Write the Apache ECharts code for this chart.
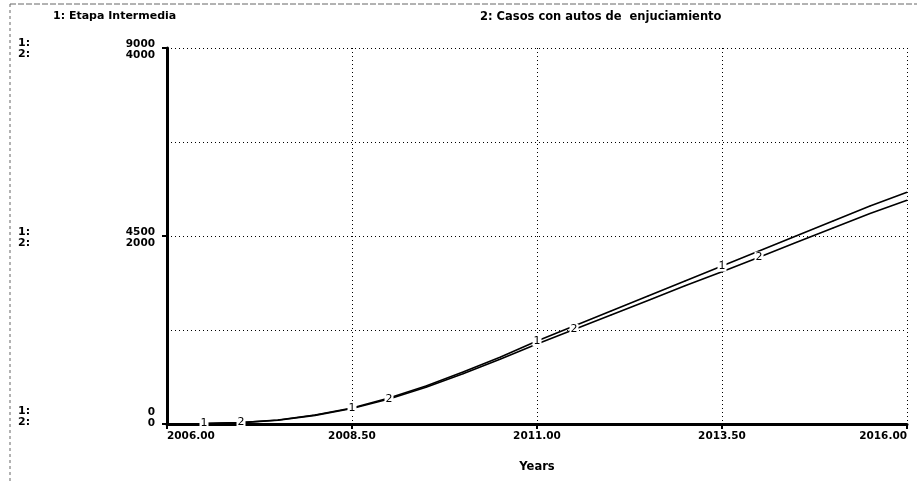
<!DOCTYPE html>
<html><head><meta charset="utf-8">
<script src="https://cdn.jsdelivr.net/npm/echarts@6/dist/echarts.min.js"></script>
<style>html,body{margin:0;padding:0;background:#fff}#c{width:917px;height:482px}</style>
</head><body><div id="c"></div>
<script>
// ---- data ----
const years = [2006,2006.5,2007,2007.5,2008,2008.5,2009,2009.5,2010,2010.5,2011,2011.5,2012,2012.5,2013,2013.5,2014,2014.5,2015,2015.5,2016];
const etapaIntermedia = [0,10,35,95,215,385,620,910,1245,1600,1985,2345,2705,3065,3425,3780,4140,4500,4860,5220,5550];
const casosAutos = [0,5,15,40,92,165,265,390,535,690,850,1005,1160,1315,1470,1620,1775,1930,2085,2240,2380];
const seriesNames = ['1: Etapa Intermedia','2: Casos con autos de  enjuciamiento'];
const xTicks = [2006, 2008.5, 2011, 2013.5, 2016];
const y1Ticks = [0, 4500, 9000];
const y2Ticks = [0, 2000, 4000];
const label1At = [2006.5, 2008.5, 2011, 2013.5];
const label2At = [2007, 2009, 2011.5, 2014];

const FONT = 'DejaVu Sans';
const chart = echarts.init(document.getElementById('c'));

function mkData(vals, marks, txt){
  return years.map((x,i)=>({
    value:[x, vals[i]],
    label:{show: marks.includes(x), formatter: txt}
  }));
}
const lineLabel = {position:'inside', color:'#000', backgroundColor:'#fff', fontSize:11, fontFamily:FONT, padding:[0,1]};
const tickFont = {color:'#000', fontFamily:FONT, fontWeight:'bold', fontSize:10.5};
const rt = (pad)=>({color:'#000', fontFamily:FONT, fontWeight:'bold', fontSize:10.5, padding:pad});

chart.setOption({
  animation:false,
  backgroundColor:'#fff',
  grid:{left:167, right:10, top:48, bottom:58, containLabel:false},
  graphic:[
    {type:'text', left:53, top:11, style:{text:seriesNames[0], font:'bold 11px '+FONT, fill:'#000'}},
    {type:'text', left:480, top:11, style:{text:seriesNames[1], font:'bold 11.5px '+FONT, fill:'#000'}},
    {type:'text', left:18, top:38, style:{text:'1:', font:'bold 11px '+FONT, fill:'#000'}},
    {type:'text', left:18, top:49, style:{text:'2:', font:'bold 11px '+FONT, fill:'#000'}},
    {type:'text', left:18, top:227, style:{text:'1:', font:'bold 11px '+FONT, fill:'#000'}},
    {type:'text', left:18, top:238, style:{text:'2:', font:'bold 11px '+FONT, fill:'#000'}},
    {type:'text', left:18, top:406, style:{text:'1:', font:'bold 11px '+FONT, fill:'#000'}},
    {type:'text', left:18, top:417, style:{text:'2:', font:'bold 11px '+FONT, fill:'#000'}},
    {type:'line', shape:{x1:10,y1:4,x2:10,y2:482}, style:{stroke:'#666', lineWidth:1, lineDash:[3,3]}},
    {type:'line', shape:{x1:10,y1:4,x2:917,y2:4}, style:{stroke:'#666', lineWidth:1, lineDash:[6,2]}}
  ],
  xAxis:{
    type:'value', min:2006, max:2016, interval:2.5,
    name:'Years', nameLocation:'middle', nameGap:37,
    nameTextStyle:{fontFamily:FONT, fontWeight:'bold', fontSize:11.5, color:'#000'},
    axisLine:{show:true, lineStyle:{color:'#000', width:3}},
    axisTick:{show:true, length:5, lineStyle:{color:'#000', width:2}},
    axisLabel:Object.assign({margin:7, formatter:v=>v.toFixed(2), alignMinLabel:'left', alignMaxLabel:'right'}, tickFont),
    splitLine:{show:true, lineStyle:{color:'#000', width:1, type:[1,3]}}
  },
  yAxis:[
    {type:'value', min:0, max:9000, interval:4500, position:'left',
     axisLine:{show:true, onZero:false, lineStyle:{color:'#000', width:3}},
     axisTick:{show:true, length:5, lineStyle:{color:'#000', width:2}},
     axisLabel:Object.assign({margin:12, verticalAlign:'middle',
       formatter:v=> v===0 ? '{z|0}' : '{n|'+v+'}',
       rich:{n:rt([0,0,8,0]), z:rt([0,0,24,0])}}, tickFont),
     splitLine:{show:true, lineStyle:{color:'#000', width:1, type:[1,3]}}
    },
    {type:'value', min:0, max:4000, interval:2000, position:'left', offset:0,
     axisLine:{show:false}, axisTick:{show:false},
     axisLabel:Object.assign({margin:12, verticalAlign:'middle',
       formatter:v=> v===0 ? '{z|0}' : '{n|'+v+'}',
       rich:{n:rt([14,0,0,0]), z:rt([0,0,2,0])}}, tickFont),
     splitLine:{show:false}
    },
    {type:'value', min:0, max:4, interval:1, position:'right',
     axisLine:{show:false}, axisTick:{show:false}, axisLabel:{show:false},
     splitLine:{show:true, lineStyle:{color:'#000', width:1, type:[1,3]}}
    }
  ],
  series:[
    {type:'line', name:seriesNames[0], yAxisIndex:0, data:mkData(etapaIntermedia,label1At,'1'),
     symbol:'circle', symbolSize:1, showSymbol:true, showAllSymbol:true,
     itemStyle:{color:'#000'}, lineStyle:{color:'#000', width:1.6}, label:lineLabel, z:3},
    {type:'line', name:seriesNames[1], yAxisIndex:1, data:mkData(casosAutos,label2At,'2'),
     symbol:'circle', symbolSize:1, showSymbol:true, showAllSymbol:true,
     itemStyle:{color:'#000'}, lineStyle:{color:'#000', width:1.6}, label:lineLabel, z:3}
  ]
});
</script></body></html>
